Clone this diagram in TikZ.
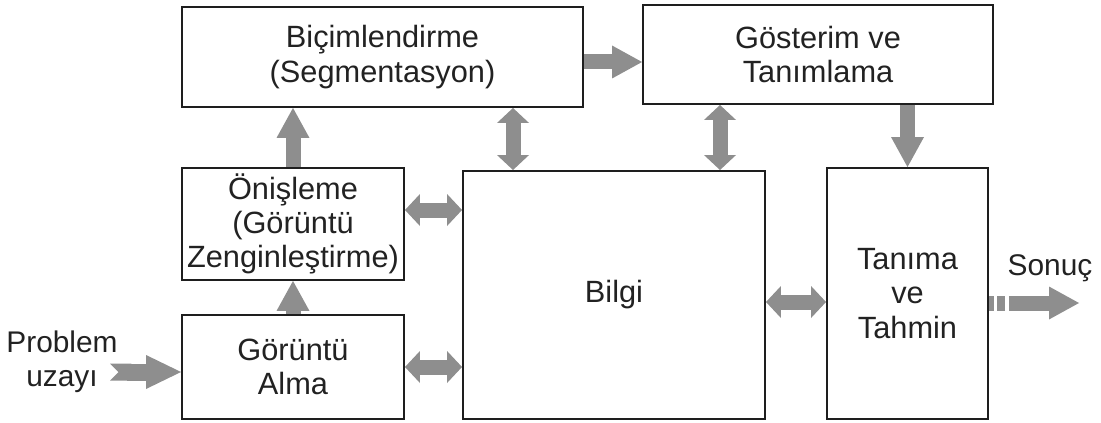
\documentclass[tikz,border=0pt]{standalone}
\usepackage{fontspec}
\setmainfont{Liberation Sans}
\usetikzlibrary{positioning,arrows.meta,calc}
\definecolor{giLine}{HTML}{1E1E1E}
\definecolor{giArrow}{HTML}{8E8E8E}
\definecolor{giText}{HTML}{222222}
\tikzset{
  block/.style={
    draw=giLine, line width=1.1pt, fill=white, minimum width=#1,
    align=center, inner sep=2pt, text=giText,
    font=\fontsize{17.5}{19.5}\selectfont},
  block/.default=4.44cm,
  oneway/.style={
    draw=giArrow, line width=0.3cm,
    -{Triangle[length=0.6cm, width=0.66cm, line width=0pt]}},
  twoway/.style={
    draw=giArrow, line width=0.3cm,
    {Triangle[length=0.3cm, width=0.64cm, line width=0pt]}-{Triangle[length=0.3cm, width=0.64cm, line width=0pt]}},
  plain/.style={align=center, text=giText, font=\fontsize{17}{19.5}\selectfont},
}
\begin{document}
\begin{tikzpicture}

\useasboundingbox (0,0) rectangle (22.02,-8.46);

\node[block=8.02cm, minimum height=2.0cm] (bic) at (7.65,-1.14) {Biçimlendirme\\(Segmentasyon)};
\node[block=7.0cm, minimum height=1.98cm] (gos) at (16.36,-1.09) {Gösterim ve\\Tanımlama};
\node[block, minimum height=2.24cm] (onis) at (5.86,-4.48) {Önişleme\\(Görüntü\\Zenginleştirme)};
\node[block, minimum height=2.08cm] (alma) at (5.86,-7.34) {Görüntü\\Alma};
\node[block=6.04cm, minimum height=4.96cm] (bilgi) at (12.28,-5.9) {Bilgi};
\node[block=3.22cm, minimum height=5.02cm] (tanima) at (18.15,-5.87) {Tanıma\\ve\\Tahmin};

\node[plain] (problem) at (1.24,-7.24) {Problem\\uzayı};
\node[plain] (sonuc) at (21.0,-5.36) {Sonuç};

% points the arrows run through
\coordinate (kb) at (10.26,0);
\coordinate (kg) at (14.4,0);
\coordinate (ko) at (0,-4.2);
\coordinate (kt) at (0,-6.04);
\coordinate (kp) at (2.2,-7.44);
\coordinate (ks) at (21.58,-6.06);

\draw[oneway] (alma.north) -- (onis.south);
\draw[oneway] (onis.north) -- (onis.north |- bic.south);
\draw[oneway] ([yshift=-0.1cm]bic.east) -- ([yshift=-0.1cm]bic.east -| gos.west);
\draw[oneway] (gos.south -| tanima.north) -- (tanima.north);

\draw[twoway] (bic.south -| kb) -- (bilgi.north -| kb);
\draw[twoway] (gos.south -| kg) -- (bilgi.north -| kg);
\draw[twoway] (onis.east |- ko) -- (bilgi.west |- ko);
\draw[twoway] (alma.east) -- (alma.east -| bilgi.west);
\draw[twoway] (bilgi.east |- kt) -- (tanima.west |- kt);

\draw[draw=giArrow, line width=0.34cm,
      {Triangle Cap[reversed]}-{Triangle[length=0.7cm, width=0.68cm, line width=0pt]}]
  (kp) -- (kp -| alma.west);
\draw[oneway, dash pattern=on 0.1cm off 0.07cm on 0.16cm off 0.07cm on 3cm]
  (tanima.east |- ks) -- (ks);

\end{tikzpicture}
\end{document}
